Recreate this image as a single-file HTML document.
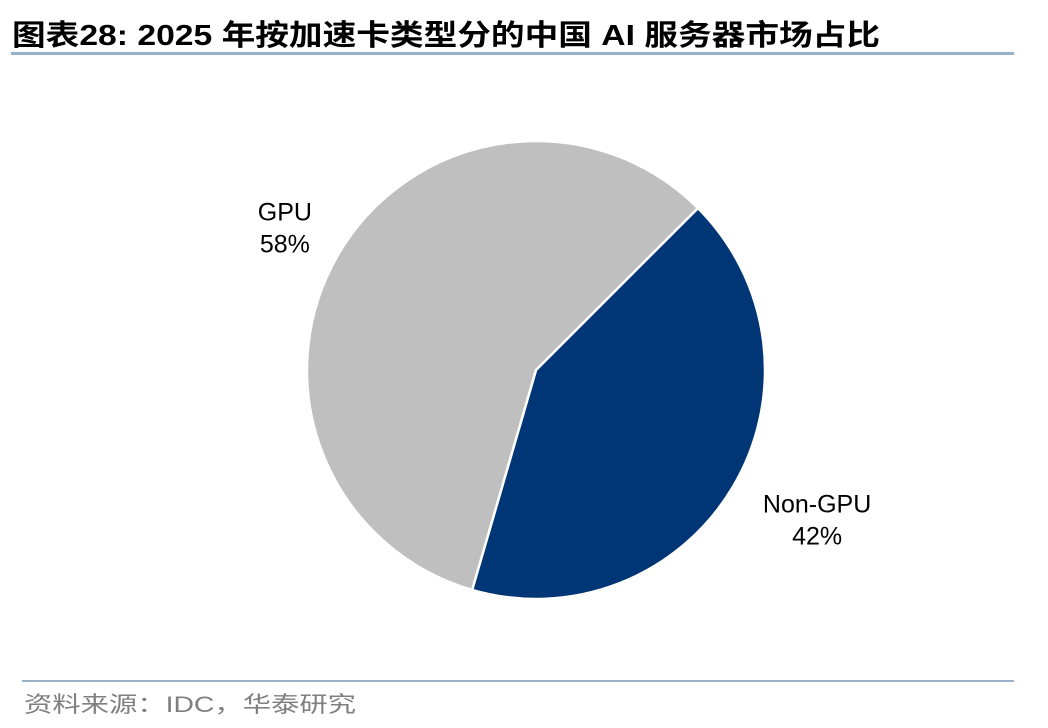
<!DOCTYPE html>
<html><head><meta charset="utf-8"><style>
html,body{margin:0;padding:0;background:#fff;}
svg{display:block;}
</style></head><body>
<svg id="chart" width="1048" height="728" viewBox="0 0 1048 728" xmlns="http://www.w3.org/2000/svg">
<text x="12" y="45" font-family="'Liberation Sans','Noto Sans CJK SC',sans-serif" font-weight="bold" font-size="29" fill="#000" textLength="868" lengthAdjust="spacingAndGlyphs">图表28:  2025 年按加速卡类型分的中国 AI 服务器市场占比</text>
<rect x="11" y="52" width="1003" height="3" fill="#98b0c8"/>
<g id="pie"></g>
<g id="labels"></g>
<rect x="22" y="680" width="992" height="2" fill="#98b0c8"/>
<text x="24" y="712" font-family="'Liberation Sans','Noto Sans CJK SC',sans-serif" font-size="22" fill="#7f7f7f" textLength="332" lengthAdjust="spacingAndGlyphs">资料来源：IDC，华泰研究</text>
</svg>
<script>
const categories = ["Non-GPU", "GPU"];
const values = [42, 58];
const pctLabels = ["42%", "58%"];
const colors = ["#003675", "#bfbfbf"];

const cx = 536, cy = 370, r = 229, startDeg = 45;
const NS = "http://www.w3.org/2000/svg";
const pie = document.getElementById('pie');
const labels = document.getElementById('labels');
const total = values.reduce((a,b)=>a+b,0);
function pt(deg, rad){ const a = deg*Math.PI/180; return [cx + rad*Math.sin(a), cy - rad*Math.cos(a)]; }
let acc = startDeg;
values.forEach((v,i)=>{
  const sweep = v/total*360;
  const a0 = acc, a1 = acc + sweep;
  const [x0,y0] = pt(a0,r), [x1,y1] = pt(a1,r);
  const p = document.createElementNS(NS,'path');
  p.setAttribute('d',`M${cx},${cy} L${x0},${y0} A${r},${r} 0 ${sweep>180?1:0} 1 ${x1},${y1} Z`);
  p.setAttribute('fill',colors[i]);
  p.setAttribute('stroke','#fff');
  p.setAttribute('stroke-width','2.5');
  
  
  pie.appendChild(p);
  const mid = (a0+a1)/2;
  let [lx,ly] = pt(mid, r*1.35);
  lx += 15;
  ly += (ly < cy ? 14 : -9);
  const t = document.createElementNS(NS,'text');
  t.setAttribute('text-anchor','middle');
  t.setAttribute('font-family',"'Liberation Sans',sans-serif");
  t.setAttribute('font-size','25');
  t.setAttribute('fill','#000');
  
  
  const s1 = document.createElementNS(NS,'tspan'); s1.setAttribute('x',lx); s1.setAttribute('y',ly-6); s1.textContent = categories[i];
  const s2 = document.createElementNS(NS,'tspan'); s2.setAttribute('x',lx); s2.setAttribute('y',ly+26); s2.textContent = pctLabels[i];
  t.appendChild(s1); t.appendChild(s2);
  labels.appendChild(t);
  acc = a1;
});
</script>
</body></html>
